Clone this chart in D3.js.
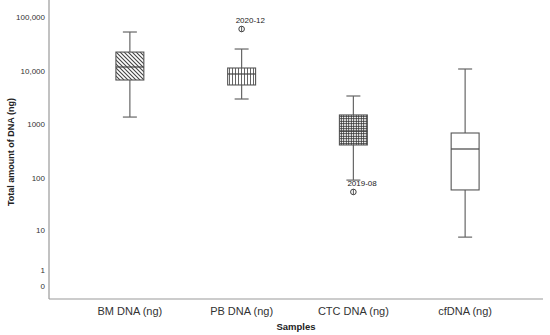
<!DOCTYPE html>
<html><head><meta charset="utf-8">
<script src="https://cdn.jsdelivr.net/npm/d3@7"></script>
<style>body{margin:0;background:#fff}svg{display:block}text{font-family:Arial,"Liberation Sans",sans-serif}</style>
</head><body><svg id="c" width="550" height="335"></svg>
<script>
const categories = ["BM DNA (ng)", "PB DNA (ng)", "CTC DNA (ng)", "cfDNA (ng)"];
const whiskerLow = [1380, 2990, 92, 7.1];
const q1 = [6740, 5450, 417, 60];
const median = [11770, 8720, 760, 351];
const q3 = [22300, 11270, 1510, 697];
const whiskerHigh = [52600, 25400, 3400, 10800];
const outliers = [{cat: "PB DNA (ng)", value: 59800, label: "2020-12"}, {cat: "CTC DNA (ng)", value: 55, label: "2019-08"}];
const tickValues = [0, 1, 10, 100, 1000, 10000, 100000];
const tickLabels = ["0", "1", "10", "100", "1000", "10,000", "100,000"];
const fills = ["url(#diag)", "url(#vert)", "url(#grid)", "#fff"];

const svg = d3.select("#c");
const axisX0 = 49, axisX1 = 543, axisY = 299;
const y = d3.scaleSymlog().constant(1).domain([0, 100000]).range([286, 17]);
const x = d3.scaleBand().domain(categories).range([74, 521]).paddingInner(0.75).paddingOuter(0.375);

const defs = svg.append("defs");
const pd = defs.append("pattern").attr("id", "diag").attr("patternUnits", "userSpaceOnUse").attr("width", 4).attr("height", 4);
pd.append("rect").attr("width", 4).attr("height", 4).attr("fill", "#fff");
pd.append("path").attr("d", "M-1,-1L5,5M-1,3L1,5M3,-1L5,1").attr("stroke", "#444").attr("stroke-width", 1.1);
const pv = defs.append("pattern").attr("id", "vert").attr("patternUnits", "userSpaceOnUse").attr("width", 3).attr("height", 3);
pv.append("rect").attr("width", 3).attr("height", 3).attr("fill", "#fff");
pv.append("path").attr("d", "M1.5,0V3").attr("stroke", "#555").attr("stroke-width", 0.9);
const pg = defs.append("pattern").attr("id", "grid").attr("patternUnits", "userSpaceOnUse").attr("width", 2.5).attr("height", 2.5);
pg.append("rect").attr("width", 2.5).attr("height", 2.5).attr("fill", "#fff");
pg.append("path").attr("d", "M1.25,0V2.5M0,1.25H2.5").attr("stroke", "#333").attr("stroke-width", 0.9);

// axes lines
svg.append("line").attr("x1", axisX0).attr("x2", axisX0).attr("y1", 0).attr("y2", axisY).attr("stroke", "#999").attr("stroke-width", 1.2);
svg.append("line").attr("x1", axisX0).attr("x2", axisX1).attr("y1", axisY).attr("y2", axisY).attr("stroke", "#999").attr("stroke-width", 1.2);

// y tick labels
svg.selectAll("text.yt").data(tickValues).join("text").attr("class", "yt")
  .attr("x", 45).attr("y", d => y(d)).attr("dy", "0.35em").attr("text-anchor", "end")
  .attr("font-size", 8).attr("fill", "#333").text((d, i) => tickLabels[i]);

// x labels
svg.selectAll("text.xt").data(categories).join("text").attr("class", "xt")
  .attr("x", d => x(d) + x.bandwidth() / 2).attr("y", 315).attr("text-anchor", "middle")
  .attr("font-size", 11).attr("fill", "#333").text(d => d);

svg.append("text").attr("x", (axisX0 + axisX1) / 2).attr("y", 330).attr("text-anchor", "middle")
  .attr("font-size", 9.5).attr("font-weight", "bold").attr("fill", "#222").text("Samples");
svg.append("text").attr("transform", "translate(14,152) rotate(-90)").attr("text-anchor", "middle")
  .attr("font-size", 9).attr("font-weight", "bold").attr("fill", "#222").text("Total amount of DNA (ng)");

const g = svg.append("g");
categories.forEach((c, i) => {
  const cx = x(c) + x.bandwidth() / 2;
  const bw = x.bandwidth();
  const capW = 14;
  const st = "#666";
  g.append("line").attr("x1", cx).attr("x2", cx).attr("y1", y(whiskerHigh[i])).attr("y2", y(q3[i])).attr("stroke", st).attr("stroke-width", 1.2);
  g.append("line").attr("x1", cx).attr("x2", cx).attr("y1", y(q1[i])).attr("y2", y(whiskerLow[i])).attr("stroke", st).attr("stroke-width", 1.2);
  g.append("line").attr("x1", cx - capW / 2).attr("x2", cx + capW / 2).attr("y1", y(whiskerHigh[i])).attr("y2", y(whiskerHigh[i])).attr("stroke", st).attr("stroke-width", 1.2);
  g.append("line").attr("x1", cx - capW / 2).attr("x2", cx + capW / 2).attr("y1", y(whiskerLow[i])).attr("y2", y(whiskerLow[i])).attr("stroke", st).attr("stroke-width", 1.2);
  g.append("rect").attr("x", x(c)).attr("width", bw).attr("y", y(q3[i])).attr("height", y(q1[i]) - y(q3[i]))
    .attr("fill", fills[i]).attr("stroke", "#555").attr("stroke-width", 1.1);
  g.append("line").attr("x1", x(c)).attr("x2", x(c) + bw).attr("y1", y(median[i])).attr("y2", y(median[i])).attr("stroke", "#444").attr("stroke-width", 1.2);
});

outliers.forEach(o => {
  const cx = x(o.cat) + x.bandwidth() / 2;
  const cy = y(o.value);
  g.append("circle").attr("cx", cx).attr("cy", cy).attr("r", 2.8).attr("fill", "#fff").attr("stroke", "#444").attr("stroke-width", 1);
  g.append("line").attr("x1", cx).attr("x2", cx).attr("y1", cy - 2.8).attr("y2", cy + 2.8).attr("stroke", "#444").attr("stroke-width", 0.9);
  g.append("text").attr("x", cx - 6).attr("y", cy - 6).attr("font-size", 8).attr("fill", "#222").text(o.label);
});
</script></body></html>
